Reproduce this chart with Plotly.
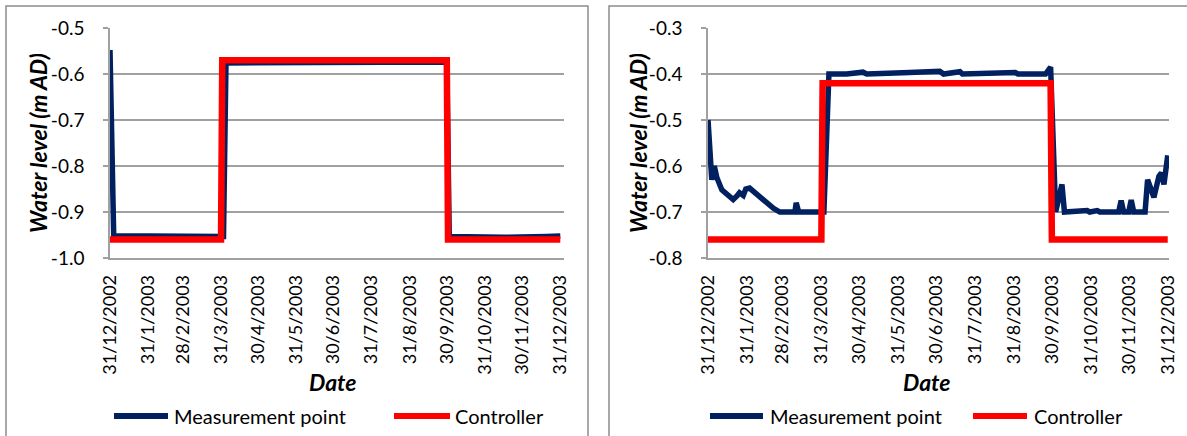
import plotly.graph_objects as go

# ---------------- data ----------------
tick_dates = ["2002-12-31", "2003-01-31", "2003-02-28", "2003-03-31", "2003-04-30",
              "2003-05-31", "2003-06-30", "2003-07-31", "2003-08-31", "2003-09-30",
              "2003-10-31", "2003-11-30", "2003-12-31"]
tick_labels = ["31/12/2002", "31/1/2003", "28/2/2003", "31/3/2003", "30/4/2003",
               "31/5/2003", "30/6/2003", "31/7/2003", "31/8/2003", "30/9/2003",
               "31/10/2003", "30/11/2003", "31/12/2003"]

# left panel
left_y_ticks = [-1.0, -0.9, -0.8, -0.7, -0.6, -0.5]
left_y_labels = ["-1.0", "-0.9", "-0.8", "-0.7", "-0.6", "-0.5"]
left_meas_dates = ["2002-12-31", "2003-01-03", "2003-02-01", "2003-03-01", "2003-04-02",
                   "2003-04-04", "2003-05-15", "2003-07-01", "2003-08-15", "2003-09-30",
                   "2003-10-02", "2003-11-15", "2003-12-20", "2003-12-31"]
left_meas_vals = [-0.548, -0.952, -0.952, -0.953, -0.953,
                  -0.576, -0.576, -0.575, -0.575, -0.574,
                  -0.953, -0.955, -0.953, -0.952]
left_ctrl_dates = ["2002-12-31", "2003-03-31", "2003-04-01", "2003-09-30", "2003-10-01", "2003-12-31"]
left_ctrl_vals = [-0.96, -0.96, -0.57, -0.57, -0.96, -0.96]

# right panel
right_y_ticks = [-0.8, -0.7, -0.6, -0.5, -0.4, -0.3]
right_y_labels = ["-0.8", "-0.7", "-0.6", "-0.5", "-0.4", "-0.3"]
right_meas_dates = ["2002-12-31", "2003-01-02", "2003-01-03", "2003-01-05", "2003-01-07",
                    "2003-01-11", "2003-01-16", "2003-01-20", "2003-01-23", "2003-01-25",
                    "2003-01-28", "2003-01-30", "2003-02-02", "2003-02-05", "2003-02-09",
                    "2003-02-15", "2003-02-21", "2003-02-26", "2003-03-10", "2003-03-11",
                    "2003-03-13", "2003-04-02", "2003-04-06", "2003-04-20", "2003-05-03",
                    "2003-05-06", "2003-05-30", "2003-06-09", "2003-07-03", "2003-07-06",
                    "2003-07-19", "2003-07-21", "2003-09-01", "2003-09-03", "2003-09-25",
                    "2003-09-29", "2003-10-03", "2003-10-08", "2003-10-10", "2003-10-28",
                    "2003-10-30", "2003-11-05", "2003-11-07", "2003-11-22", "2003-11-24",
                    "2003-11-26", "2003-11-30", "2003-12-02", "2003-12-04", "2003-12-13",
                    "2003-12-15", "2003-12-17", "2003-12-20", "2003-12-24", "2003-12-26",
                    "2003-12-28", "2003-12-31"]
right_meas_vals = [-0.50, -0.62, -0.63, -0.60, -0.625,
                   -0.652, -0.665, -0.673, -0.665, -0.658,
                   -0.664, -0.650, -0.648, -0.655, -0.665,
                   -0.680, -0.692, -0.700, -0.700, -0.680,
                   -0.700, -0.700, -0.400, -0.400, -0.396,
                   -0.400, -0.399, -0.397, -0.394, -0.400,
                   -0.395, -0.400, -0.397, -0.400, -0.400,
                   -0.385, -0.700, -0.640, -0.700, -0.697,
                   -0.700, -0.697, -0.700, -0.700, -0.675,
                   -0.700, -0.700, -0.674, -0.700, -0.700,
                   -0.630, -0.645, -0.668, -0.622, -0.615,
                   -0.640, -0.577]
right_ctrl_dates = ["2002-12-31", "2003-03-31", "2003-04-01", "2003-09-29", "2003-09-30", "2003-12-31"]
right_ctrl_vals = [-0.76, -0.76, -0.42, -0.42, -0.76, -0.76]

series_names = ["Measurement point", "Controller"]
series_colors = ["#002060", "#ff0000"]

# ---------------- layout constants ----------------
W, H = 1187, 436
FONT = "Lato"
GRID = "#a0a0a0"
BORDER = "#8c8c8c"


def px(x):
    return x / W


def py(y):
    return 1 - y / H


plot_top, plot_bottom = 28, 258
panels = [
    dict(x0=110, x1=564, xr=["2002-12-31", "2004-01-03"], yr=[-1.0, -0.5],
         yt=left_y_ticks, yl=left_y_labels,
         meas=(left_meas_dates, left_meas_vals), ctrl=(left_ctrl_dates, left_ctrl_vals),
         title_x=38, date_x=333, leg=[(114, 168, 172), (394, 450, 453)],
         box=(6, 588)),
    dict(x0=708, x1=1169, xr=["2002-12-31", "2004-01-01"], yr=[-0.8, -0.3],
         yt=right_y_ticks, yl=right_y_labels,
         meas=(right_meas_dates, right_meas_vals), ctrl=(right_ctrl_dates, right_ctrl_vals),
         title_x=638, date_x=927, leg=[(710, 763, 768), (973, 1027, 1032)],
         box=(609, 1200)),
]

fig = go.Figure()
layout = dict(width=W, height=H, margin=dict(l=0, r=0, t=0, b=0, autoexpand=False),
              paper_bgcolor="white", plot_bgcolor="white", showlegend=False,
              font=dict(family=FONT, color="black"))
shapes, annotations = [], []

for i, p in enumerate(panels):
    xa = "x" if i == 0 else "x3"
    ya = "y" if i == 0 else "y3"
    xkey = "xaxis" if i == 0 else "xaxis3"
    xtopkey = "xaxis2" if i == 0 else "xaxis4"
    ykey = "yaxis" if i == 0 else "yaxis3"

    for (dates, vals), name, col, w in zip([p["meas"], p["ctrl"]], series_names,
                                          series_colors, [5.5, 6.5]):
        fig.add_trace(go.Scatter(x=dates, y=vals, mode="lines", name=name,
                                 line=dict(color=col, width=w),
                                 xaxis=xa, yaxis=ya, hoverinfo="skip"))

    dom = [px(p["x0"]), px(p["x1"])]
    # bottom axis carries the date labels
    layout[xkey] = dict(domain=dom, anchor=ya, type="date", range=p["xr"],
                        tickvals=tick_dates, ticktext=tick_labels, tickangle=-90,
                        ticks="", showgrid=False, zeroline=False, automargin=False,
                        showline=True, linecolor=GRID, linewidth=1.5,
                        tickfont=dict(size=18, family=FONT), ticklabelstandoff=8)
    # top axis line carries the tick marks
    layout[xtopkey] = dict(domain=dom, anchor=ya, overlaying=xa, side="top",
                           type="date", range=p["xr"], tickvals=tick_dates,
                           showticklabels=False, ticks="outside", ticklen=5,
                           tickcolor=GRID, tickwidth=1.5, showgrid=False, automargin=False,
                           zeroline=False, showline=True, linecolor=GRID, linewidth=1.5)
    layout[ykey] = dict(domain=[py(plot_bottom), py(plot_top)], anchor=xa,
                        range=p["yr"], tickvals=p["yt"], ticktext=p["yl"],
                        ticks="outside", ticklen=5, tickcolor=GRID, tickwidth=1.5,
                        showline=True, linecolor=GRID, linewidth=1.5, automargin=False,
                        showgrid=True, gridcolor=GRID, gridwidth=1.5, zeroline=False,
                        tickfont=dict(size=19, family=FONT), ticklabelstandoff=15)

    # axis titles
    annotations.append(dict(text="<b><i>Water level (m AD)</i></b>", textangle=-90,
                            x=px(p["title_x"]), y=py((plot_top + plot_bottom) / 2),
                            xref="paper", yref="paper", showarrow=False,
                            xanchor="center", yanchor="middle",
                            font=dict(size=23, family=FONT)))
    annotations.append(dict(text="<b><i>Date</i></b>", x=px(p["date_x"]), y=py(382),
                            xref="paper", yref="paper", showarrow=False,
                            xanchor="center", yanchor="middle",
                            font=dict(size=23, family=FONT)))

    # legend entries
    for (s0, s1, tx), name, col in zip(p["leg"], series_names, series_colors):
        shapes.append(dict(type="line", xref="paper", yref="paper",
                           x0=px(s0), x1=px(s1), y0=py(416), y1=py(416),
                           line=dict(color=col, width=6)))
        annotations.append(dict(text=name, x=px(tx), y=py(416), xref="paper",
                                yref="paper", showarrow=False, xanchor="left",
                                yanchor="middle", font=dict(size=20, family=FONT)))

    # chart frame
    bx0, bx1 = p["box"]
    shapes.append(dict(type="rect", xref="paper", yref="paper",
                       x0=px(bx0), x1=px(bx1), y0=py(460), y1=py(6),
                       line=dict(color=BORDER, width=1.5), fillcolor="rgba(0,0,0,0)"))

layout["shapes"] = shapes
layout["annotations"] = annotations
fig.update_layout(**layout)
fig.write_html("out.html")
